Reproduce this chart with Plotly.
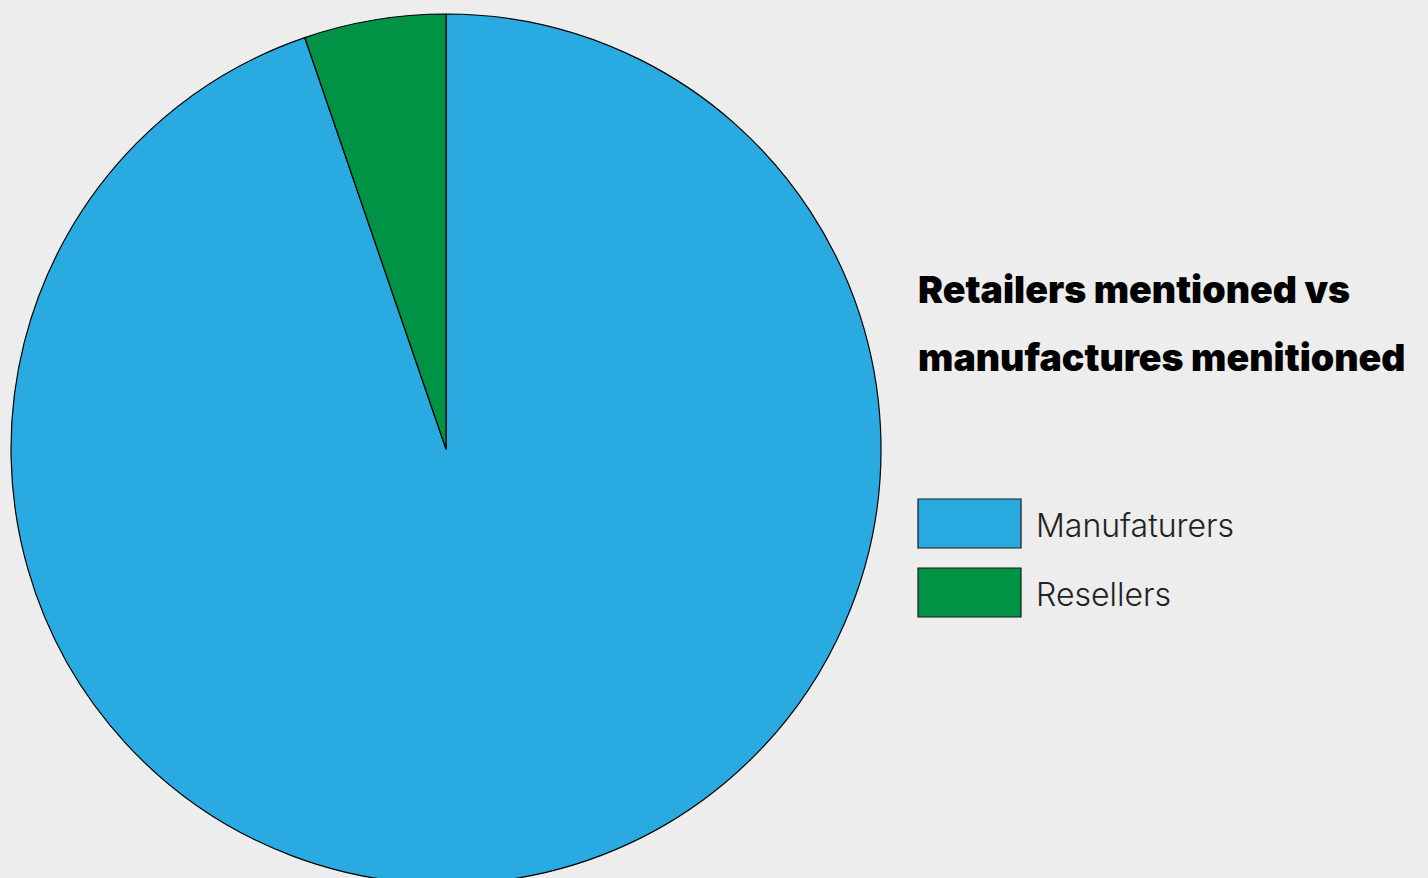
import plotly.graph_objects as go

# Share of mentions
categories = ["Manufaturers", "Resellers"]
mentions = [18, 1]
colors = ["#29ABE2", "#009245"]
title_lines = ["Retailers mentioned vs", "manufactures menitioned"]

W, H = 1428, 892
BG = "#EDEDED"


def px(x):
    return x / W


def py(y):
    return 1 - y / H


fig = go.Figure(
    go.Pie(
        labels=categories,
        values=mentions,
        sort=False,
        direction="clockwise",
        rotation=0,
        marker=dict(colors=colors, line=dict(color="#000000", width=1.2)),
        textinfo="none",
        hoverinfo="label+value+percent",
        showlegend=False,
        domain=dict(x=[px(11), px(881)], y=[py(884), py(14)]),
    )
)

# Title on the right
for i, line in enumerate(title_lines):
    fig.add_annotation(
        x=px(916), y=py(289 + 68 * i), xref="paper", yref="paper",
        text=line, showarrow=False, xanchor="left", yanchor="middle",
        font=dict(family="Inter", size=37.5, color="#000000", weight=900),
    )

# Legend swatches and labels
for i, (name, col) in enumerate(zip(categories, colors)):
    top = 499 + 69 * i
    fig.add_shape(
        type="rect", xref="paper", yref="paper",
        x0=px(918), x1=px(1021), y0=py(top), y1=py(top + 49),
        fillcolor=col, line=dict(color="#1a1a1a", width=1.2),
    )
    fig.add_annotation(
        x=px(1034), y=py(top + 26), xref="paper", yref="paper",
        text=name, showarrow=False, xanchor="left", yanchor="middle",
        font=dict(family="Inter", size=32, color="#222222", weight=300),
    )

fig.update_layout(
    width=W, height=H,
    margin=dict(l=0, r=0, t=0, b=0),
    paper_bgcolor=BG, plot_bgcolor=BG,
)

fig.write_html(
    "out.html",
    post_script="document.body.style.overflow='hidden';document.documentElement.style.overflow='hidden';",
)
